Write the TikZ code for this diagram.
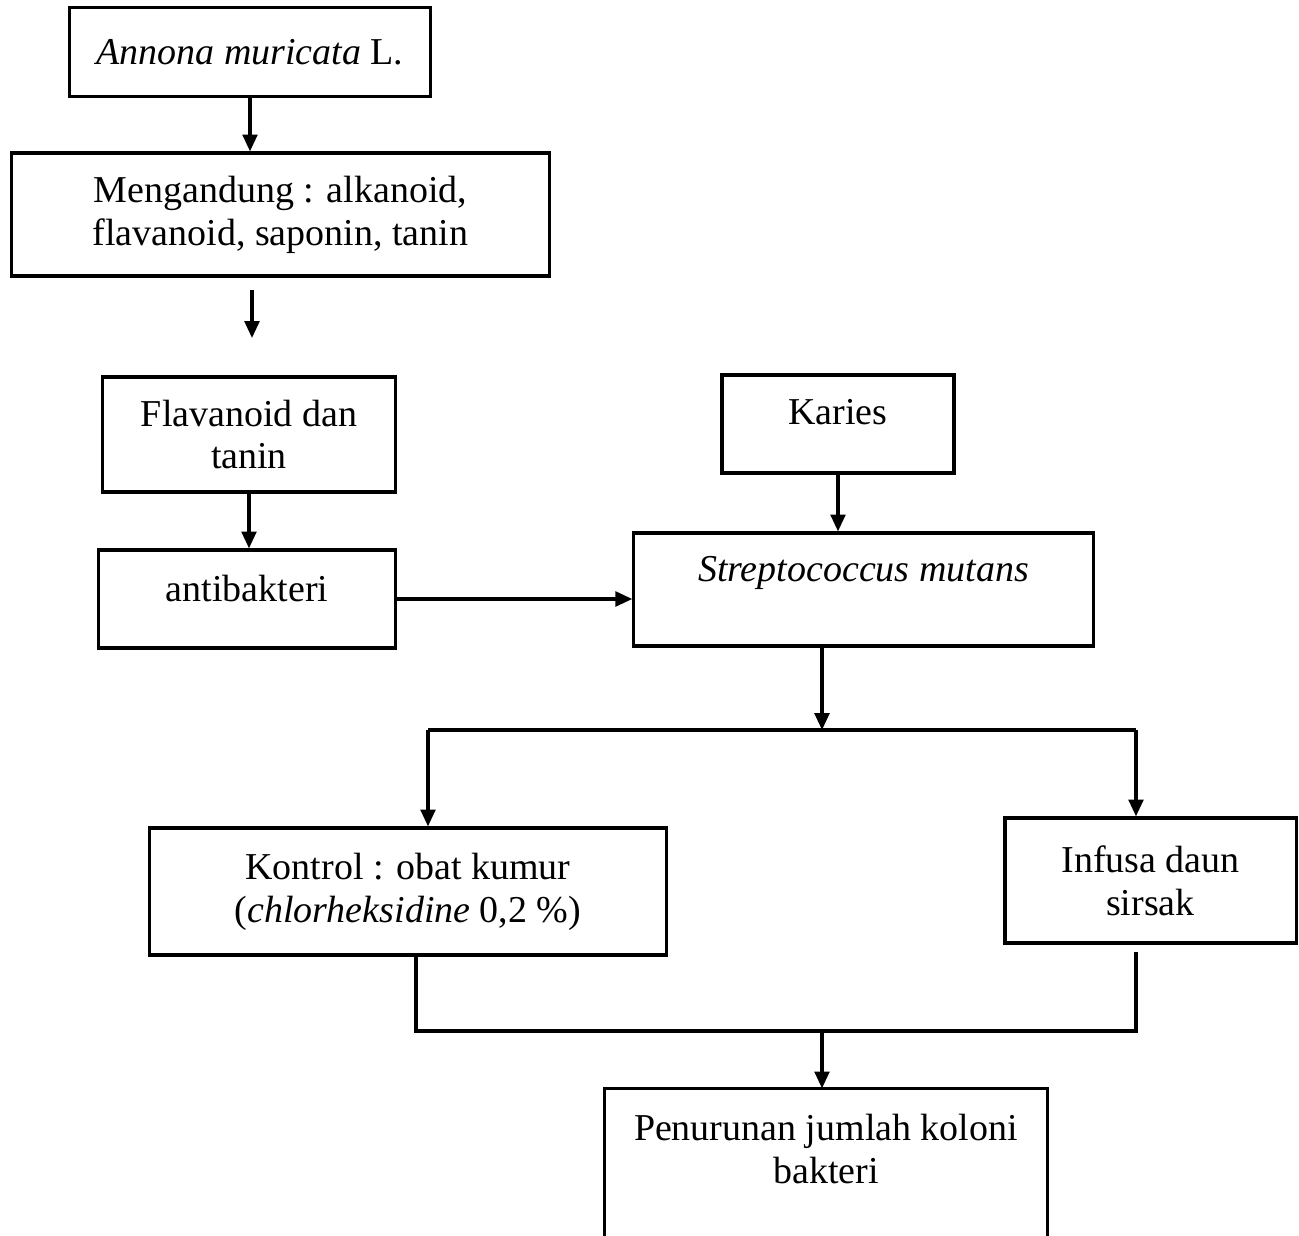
\documentclass[tikz,border=0pt]{standalone}
\usepackage{fontspec}
\setmainfont{Liberation Serif}
\usetikzlibrary{arrows.meta, positioning, calc}

\begin{document}
\begin{tikzpicture}[x=0.01cm, y=-0.01cm, line width=0.9pt,
  font=\fontsize{10.8}{12.2}\selectfont,
  box/.style={draw, rectangle, align=center, inner sep=2pt},
  arr/.style={-{Triangle[length=4.8pt,width=4.2pt]}}]
  \useasboundingbox (0,0) rectangle (1299,1236);

  \node[box, minimum width=3.6cm, minimum height=0.89cm] (annona) at (250,52) {\textit{Annona muricata} L.};
  \node[box, minimum width=5.37cm, minimum height=1.23cm] (zat) at (280.5,214.5) {Mengandung : alkanoid,\\flavanoid, saponin, tanin};
  \node[box, minimum width=2.92cm, minimum height=1.15cm] (flav) at (249,434.5) {Flavanoid dan\\tanin};
  \node[box, minimum width=2.96cm, minimum height=0.98cm, text depth=6.3pt] (antib) at (247,599) {antibakteri};
  \node[box, minimum width=2.32cm, minimum height=0.98cm, text depth=6.8pt] (karies) at (838,424) {Karies};
  \node[box, minimum width=4.59cm, minimum height=1.13cm, text depth=11.5pt] (strep) at (863.5,589.5) {\textit{Streptococcus mutans}};
  \node[box, minimum width=5.16cm, minimum height=1.27cm] (kontrol) at (408,891.5) {Kontrol : obat kumur\\(\textit{chlorheksidine} 0,2 \%)};
  \node[box, minimum width=2.91cm, minimum height=1.25cm] (infusa) at (1150.5,880.5) {Infusa daun\\sirsak};
  \node[minimum width=4.4cm, minimum height=1.5cm, align=center, text depth=9pt] (hasil) at (826,1165) {Penurunan jumlah koloni\\bakteri};
  \draw (hasil.south west) -- (hasil.north west) -- (hasil.north east) -- (hasil.south east);

  \coordinate (gapA) at (252,290);
  \coordinate (gapB) at (252,338);
  \coordinate (split) at (822,730);
  \coordinate (brL) at (428,730);
  \coordinate (brR) at (1136,730);
  \coordinate (joinL) at (416,1031);
  \coordinate (joinM) at (822,1031);
  \coordinate (joinR) at (1136,1031);

  \draw[arr] (annona.south) -- (annona.south |- zat.north);
  \draw[arr] (gapA) -- (gapB);
  \draw[arr] (flav.south) -- (flav.south |- antib.north);
  \draw[arr] (antib.east) -- (antib.east -| strep.west);
  \draw[arr] (karies.south) -- (karies.south |- strep.north);
  \draw[arr] (strep.south -| split) -- (split);
  \draw (brL) -- (brR);
  \draw[arr] (brL) -- (brL |- kontrol.north);
  \draw[arr] (brR) -- (brR |- infusa.north);
  \draw (joinL |- kontrol.south) -- (joinL) -- (joinR) -- ([yshift=-2pt]joinR |- infusa.south);
  \draw[arr] (joinM) -- (joinM |- hasil.north);
\end{tikzpicture}
\end{document}
